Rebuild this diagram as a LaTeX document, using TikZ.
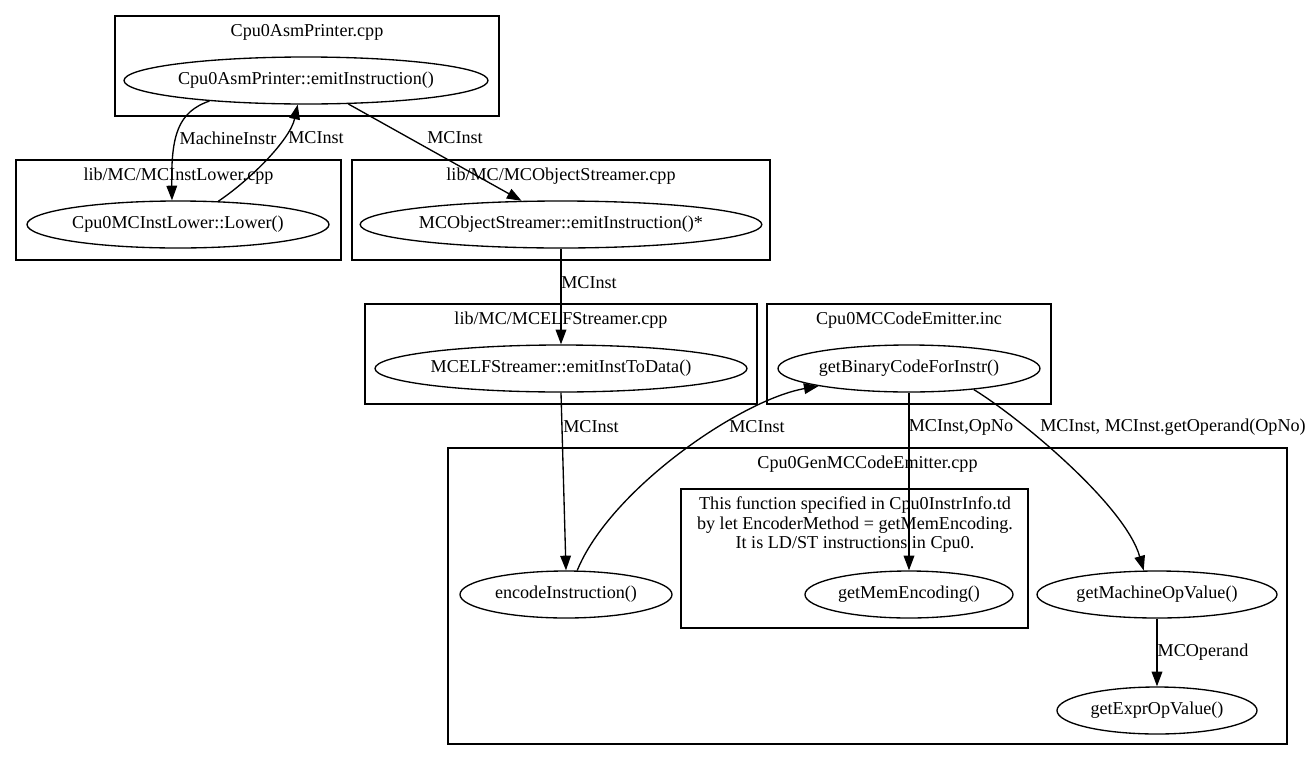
\documentclass[tikz,border=0pt]{standalone}
\usepackage{fontspec}
\setmainfont{Liberation Serif}
\usetikzlibrary{shapes.geometric,arrows.meta}
\begin{document}
\begin{tikzpicture}[x=0.75pt,y=-0.75pt,
  every node/.style={font=\fontsize{13.6}{14.6}\selectfont},
  fn/.style={ellipse,draw,line width=1pt,inner sep=0pt,minimum height=35.25pt,minimum width={#1*1.5pt}},
  cluster/.style 2 args={draw,line width=1pt,inner sep=0pt,minimum width={#1*0.75pt},minimum height={#2*0.75pt}},
  title/.style={inner sep=0pt},
  lab/.style={inner sep=0pt},
  edge/.style={draw,line width=1pt,-{Triangle[length=11pt,width=8pt]}}]
\useasboundingbox (0,0) rectangle (1315,761);
% clusters
\node[cluster={384}{100}] (c1) at (307,66) {};
\node[title] (t1) at (307,32) {Cpu0AsmPrinter.cpp};
\node[cluster={325}{100}] (c2) at (178.5,210) {};
\node[title] (t2) at (178.5,176) {lib/MC/MCInstLower.cpp};
\node[cluster={418}{100}] (c3) at (561,210) {};
\node[title] (t3) at (561,176) {lib/MC/MCObjectStreamer.cpp};
\node[cluster={392}{100}] (c4) at (561,354) {};
\node[title] (t4) at (561,320) {lib/MC/MCELFStreamer.cpp};
\node[cluster={284}{100}] (c5) at (909,354) {};
\node[title] (t5) at (909,320) {Cpu0MCCodeEmitter.inc};
\node[cluster={839}{296}] (c6) at (867.5,596) {};
\node[title] (t6) at (867.5,464) {Cpu0GenMCCodeEmitter.cpp};
\node[cluster={347}{139}] (c7) at (854.5,558.5) {};
\node[title,align=center] (t7) at (855,525) {This function specified in Cpu0InstrInfo.td\\by let EncoderMethod = getMemEncoding.\\It is LD/ST instructions in Cpu0.};
% functions
\node[fn=182] (e1) at (306,80.5) {Cpu0AsmPrinter::emitInstruction()};
\node[fn=151] (e2) at (178,224.5) {Cpu0MCInstLower::Lower()};
\node[fn=200] (e3) at (561,224.5) {MCObjectStreamer::emitInstruction()*};
\node[fn=186] (e4) at (561,368.5) {MCELFStreamer::emitInstToData()};
\node[fn=131] (e5) at (909,368.5) {getBinaryCodeForInstr()};
\node[fn=106] (e6) at (566,594.5) {encodeInstruction()};
\node[fn=104] (e7) at (909,594.5) {getMemEncoding()};
\node[fn=120] (e8) at (1157,594.5) {getMachineOpValue()};
\node[fn=100] (e9) at (1157,710.5) {getExprOpValue()};
% labels
\node[lab] (l1) at (228,138) {MachineInstr};
\node[lab] (l2) at (316,138) {MCInst};
\node[lab] (l3) at (455,138) {MCInst};
\node[lab] (l4) at (589,283) {MCInst};
\node[lab] (l5) at (591,427) {MCInst};
\node[lab] (l6) at (757,427) {MCInst};
\node[lab] (l7) at (961,427) {MCInst,OpNo};
\node[lab] (l8) at (1173,427) {MCInst, MCInst.getOperand(OpNo)};
\node[lab] (l9) at (1203,652) {MCOperand};
% edges
\draw[edge] (e1.192) .. controls (178,112) and (171,135) .. (e2.104);
\draw[edge] (e2.30) .. controls (250,180) and (290,140) .. (e1.251);
\draw[edge] (e1.-29) -- (e3.149);
\draw[edge] (e3.south) -- (e4.north);
\draw[edge] (e4.south) -- (e6.north);
\draw[edge] (e6.65) .. controls (610,490) and (740,400) .. (e5.191);
\draw[edge] (e5.south) -- (e7.north);
\draw[edge] (e5.-18) .. controls (1020,418) and (1125,505) .. (e8.119);
\draw[edge] (e8.south) -- (e9.north);
\end{tikzpicture}
\end{document}
